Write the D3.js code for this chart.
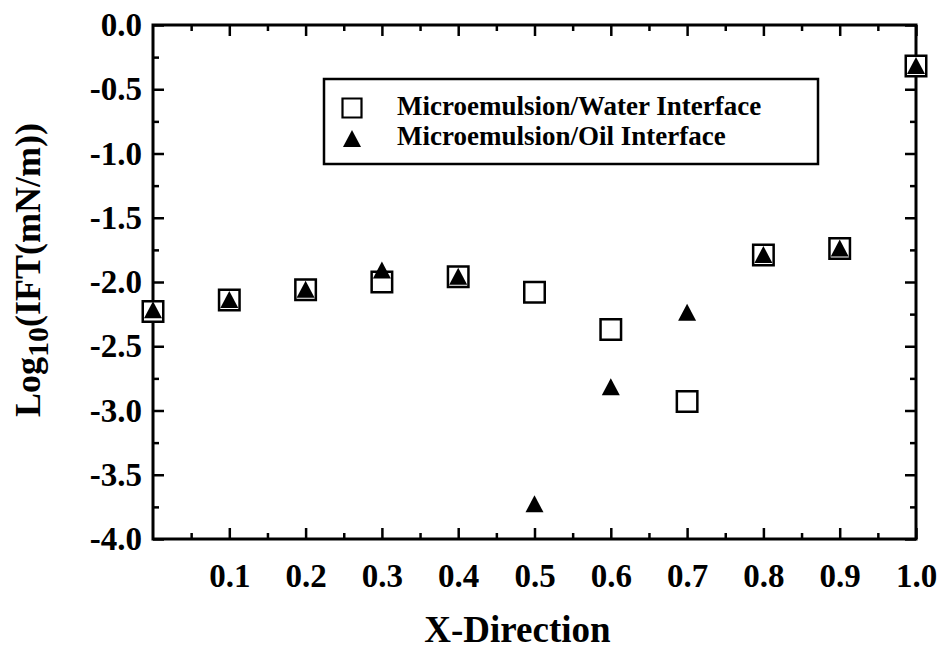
<!DOCTYPE html>
<html>
<head>
<meta charset="utf-8">
<script src="https://cdn.jsdelivr.net/npm/d3@7"></script>
<style>
  body { margin: 0; background: #fff; }
  svg text { font-family: "Liberation Serif", "Times New Roman", serif; font-weight: bold; fill: #000; }
</style>
</head>
<body>
<div id="chart"></div>
<script>
// x positions along the cell
var xPos = [0.0, 0.1, 0.2, 0.3, 0.4, 0.5, 0.6, 0.7, 0.8, 0.9, 1.0];
// log10 IFT values (mN/m)
var waterIFT = [-2.23, -2.14, -2.06, -2.00, -1.96, -2.08, -2.37, -2.93, -1.79, -1.74, -0.32];
var oilIFT   = [-2.22, -2.14, -2.06, -1.91, -1.96, -3.73, -2.82, -2.24, -1.79, -1.74, -0.32];

var xTicks = [0.1, 0.2, 0.3, 0.4, 0.5, 0.6, 0.7, 0.8, 0.9, 1.0];
var xMinor = [0.05, 0.15, 0.25, 0.35, 0.45, 0.55, 0.65, 0.75, 0.85, 0.95];
var yTicks = [0.0, -0.5, -1.0, -1.5, -2.0, -2.5, -3.0, -3.5, -4.0];
var yMinor = [-0.25, -0.75, -1.25, -1.75, -2.25, -2.75, -3.25, -3.75];

var seriesNames = ["Microemulsion/Water Interface", "Microemulsion/Oil Interface"];

// set the dimensions and margins of the graph
var margin = {top: 25, right: 22, bottom: 112, left: 153},
    width = 938 - margin.left - margin.right,
    height = 651 - margin.top - margin.bottom;

var svg = d3.select("#chart")
  .append("svg")
    .attr("width", 938)
    .attr("height", 651)
  .append("g")
    .attr("transform", "translate(" + margin.left + "," + margin.top + ")");

var x = d3.scaleLinear().domain([0, 1]).range([0, width]);
var y = d3.scaleLinear().domain([-4, 0]).range([height, 0]);

// plain hyphen for negative labels, like the original
var fmt = function(d) { return d3.format(".1f")(d).replace("\u2212", "-"); };

function styleAxis(g) {
  g.select(".domain").remove();
  g.selectAll(".tick line").attr("stroke", "#000").attr("stroke-width", 2.5);
  g.selectAll(".tick text").style("font-size", "33px");
}

// bottom axis (inward ticks)
svg.append("g")
  .attr("transform", "translate(0," + height + ")")
  .call(d3.axisBottom(x).tickValues(xTicks).tickSize(-11).tickPadding(25).tickFormat(fmt))
  .call(styleAxis);
svg.append("g")
  .attr("transform", "translate(0," + height + ")")
  .call(d3.axisBottom(x).tickValues(xMinor).tickSize(-6).tickFormat(""))
  .call(styleAxis);

// top axis
svg.append("g")
  .call(d3.axisTop(x).tickValues(xTicks).tickSize(-11).tickFormat(""))
  .call(styleAxis);
svg.append("g")
  .call(d3.axisTop(x).tickValues(xMinor).tickSize(-6).tickFormat(""))
  .call(styleAxis);

// left axis
svg.append("g")
  .call(d3.axisLeft(y).tickValues(yTicks).tickSize(-11).tickPadding(11).tickFormat(fmt))
  .call(styleAxis);
svg.append("g")
  .call(d3.axisLeft(y).tickValues(yMinor).tickSize(-6).tickFormat(""))
  .call(styleAxis);

// right axis
svg.append("g")
  .attr("transform", "translate(" + width + ",0)")
  .call(d3.axisRight(y).tickValues(yTicks).tickSize(-11).tickFormat(""))
  .call(styleAxis);
svg.append("g")
  .attr("transform", "translate(" + width + ",0)")
  .call(d3.axisRight(y).tickValues(yMinor).tickSize(-6).tickFormat(""))
  .call(styleAxis);

// frame
svg.append("rect")
  .attr("width", width)
  .attr("height", height)
  .attr("fill", "none")
  .attr("stroke", "#000")
  .attr("stroke-width", 3);

// markers
var square = d3.symbol().type(d3.symbolSquare).size(20.5 * 20.5);
var tri = "M0,-9 L9,8 L-9,8 Z";

svg.selectAll(".water")
  .data(xPos)
  .enter()
  .append("path")
    .attr("class", "water")
    .attr("d", square)
    .attr("transform", function(d, i) { return "translate(" + x(d) + "," + y(waterIFT[i]) + ")"; })
    .attr("fill", "#fff")
    .attr("stroke", "#000")
    .attr("stroke-width", 2.5);

svg.selectAll(".oil")
  .data(xPos)
  .enter()
  .append("path")
    .attr("class", "oil")
    .attr("d", tri)
    .attr("transform", function(d, i) { return "translate(" + x(d) + "," + y(oilIFT[i]) + ")"; })
    .attr("fill", "#000");

// legend
var legend = svg.append("g").attr("transform", "translate(171,54)");
legend.append("rect")
  .attr("width", 494)
  .attr("height", 85)
  .attr("fill", "#fff")
  .attr("stroke", "#000")
  .attr("stroke-width", 2.5);
legend.append("path")
  .attr("d", d3.symbol().type(d3.symbolSquare).size(19 * 19))
  .attr("transform", "translate(28,29)")
  .attr("fill", "#fff")
  .attr("stroke", "#000")
  .attr("stroke-width", 2.2);
legend.append("path")
  .attr("d", tri)
  .attr("transform", "translate(28,60)")
  .attr("fill", "#000");
legend.selectAll(".ltext")
  .data(seriesNames)
  .enter()
  .append("text")
    .attr("x", 73)
    .attr("y", function(d, i) { return 36 + i * 30; })
    .style("font-size", "27px")
    .text(function(d) { return d; });

// axis titles
svg.append("text")
  .attr("x", width / 2 - 17)
  .attr("y", height + 103)
  .attr("text-anchor", "middle")
  .style("font-size", "37px")
  .text("X-Direction");

var yt = svg.append("text")
  .attr("transform", "translate(" + (40 - margin.left) + "," + (270 - margin.top) + ") rotate(-90)")
  .attr("text-anchor", "middle")
  .style("font-size", "36px");
yt.append("tspan").text("Log");
yt.append("tspan").attr("dy", 8).style("font-size", "30px").text("10");
yt.append("tspan").attr("dy", -8).text("(IFT(mN/m))");
</script>
</body>
</html>
